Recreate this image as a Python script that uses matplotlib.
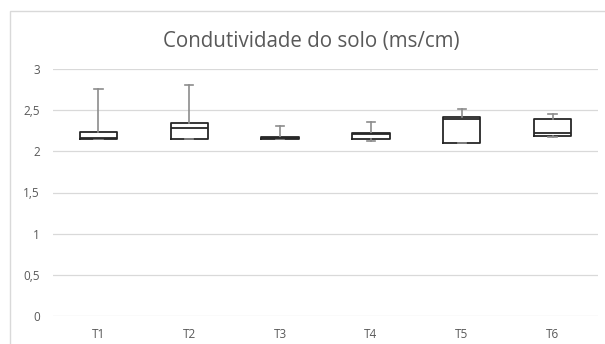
import matplotlib
matplotlib.use('Agg')
import matplotlib.pyplot as plt
from matplotlib.patches import Rectangle

# Box statistics per treatment (ms/cm)
labels = ['T1', 'T2', 'T3', 'T4', 'T5', 'T6']
whislo = [2.15, 2.15, 2.15, 2.13, 2.105, 2.18]
q1 = [2.15, 2.15, 2.15, 2.15, 2.105, 2.19]
med = [2.16, 2.28, 2.16, 2.21, 2.39, 2.22]
q3 = [2.24, 2.34, 2.18, 2.22, 2.42, 2.39]
whishi = [2.755, 2.80, 2.31, 2.36, 2.51, 2.45]

yticks = [0, 0.5, 1, 1.5, 2, 2.5, 3]
ytick_labels = ['0', '0,5', '1', '1,5', '2', '2,5', '3']

plt.rcParams['font.family'] = ['Open Sans', 'DejaVu Sans']
grey = '#595959'

fig = plt.figure(figsize=(6.05, 3.44), dpi=100)
ax = fig.add_axes([53 / 605, 1 - 316 / 344, 545 / 605, 247 / 344])

stats = []
for i in range(len(labels)):
    stats.append(dict(label=labels[i], whislo=whislo[i], q1=q1[i], med=med[i],
                      q3=q3[i], whishi=whishi[i], fliers=[]))

ax.bxp(stats, positions=range(1, len(labels) + 1), widths=0.41, showfliers=False,
       boxprops=dict(color='#262626', linewidth=1.3),
       medianprops=dict(color='#262626', linewidth=1.3),
       whiskerprops=dict(color='#8c8c8c', linewidth=1.2),
       capprops=dict(color='#8c8c8c', linewidth=1.2),
       capwidths=0.09)

ax.set_xlim(0.5, len(labels) + 0.5)
ax.set_ylim(0, 3)
ax.set_yticks(yticks)
ax.set_yticklabels(ytick_labels)
ax.yaxis.grid(True, color='#d9d9d9', linewidth=0.9)
ax.set_axisbelow(True)
for s in ax.spines.values():
    s.set_visible(False)
ax.tick_params(length=0, colors=grey, labelsize=8.5, pad=9.5)
ax.tick_params(axis='x', pad=9)

fig.text(311 / 605, 1 - 41 / 344, 'Condutividade do solo (ms/cm)', ha='center', va='center',
         fontsize=14.8, color=grey)

# chart border
fig.patches.append(Rectangle((10 / 605, -0.1), 1.0, 1 - 11 / 344 + 0.1,
                             transform=fig.transFigure, fill=False,
                             edgecolor='#d9d9d9', linewidth=1))

fig.savefig('out.png', dpi=100)
